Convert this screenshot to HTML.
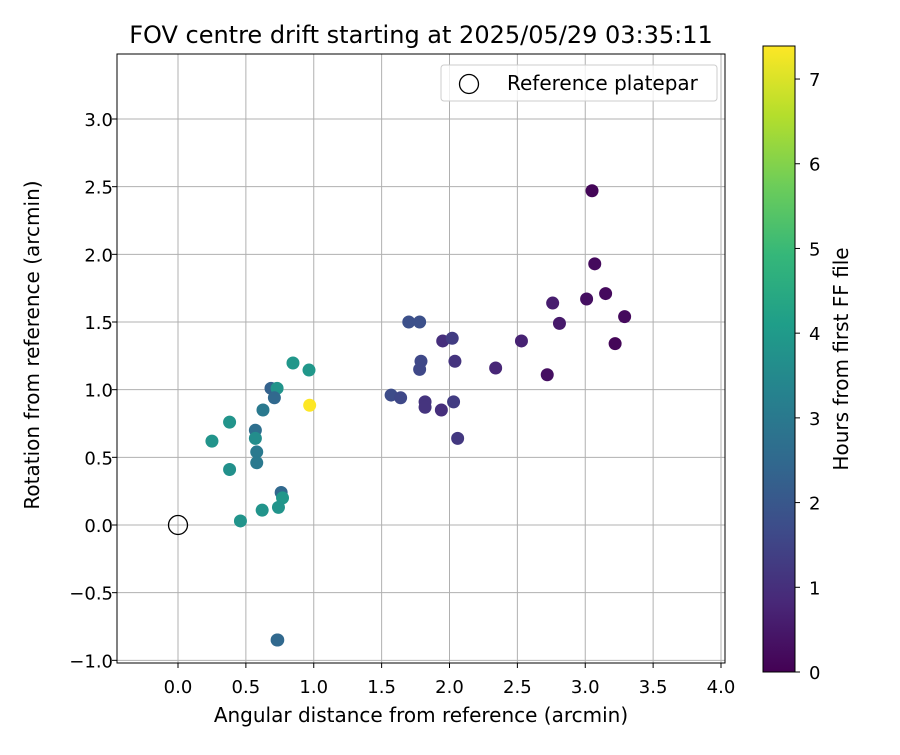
<!DOCTYPE html>
<html><head><meta charset="utf-8"><style>
body{margin:0;background:#fff;font-family:"Liberation Sans","DejaVu Sans",sans-serif}
</style></head><body>
<svg width="900" height="750" xmlns="http://www.w3.org/2000/svg" font-family="DejaVu Sans, Liberation Sans, sans-serif">
<g id="root"></g>
</svg>
<script>
const xs=[0.847,0.965,0.685,0.73,0.71,0.97,0.626,0.38,0.57,0.25,0.57,0.58,0.58,0.38,0.76,0.77,0.74,0.62,0.46,0.73,0.735,
1.70,1.78,1.95,2.02,1.79,1.78,2.04,2.34,1.57,1.64,1.82,1.82,1.94,2.03,2.06,
3.05,3.07,3.15,3.01,2.76,2.81,3.29,2.53,3.22,2.72];
const ys=[1.197,1.145,1.01,1.01,0.94,0.885,0.85,0.76,0.70,0.62,0.64,0.54,0.46,0.41,0.24,0.2,0.13,0.11,0.03,-0.85,-0.85,
1.50,1.50,1.36,1.38,1.21,1.15,1.21,1.16,0.96,0.94,0.91,0.87,0.85,0.91,0.64,
2.47,1.93,1.71,1.67,1.64,1.49,1.54,1.36,1.34,1.11];
const hours=[3.9,3.9,2.3,3.8,2.5,7.4,3.0,3.8,2.7,3.8,3.6,3.0,3.0,3.7,2.5,3.9,3.8,3.8,3.8,2.5,2.5,
1.8,1.8,1.0,1.3,1.6,1.6,1.1,0.8,1.7,1.6,1.1,1.1,1.0,1.3,1.2,
0.1,0.2,0.2,0.3,0.6,0.5,0.2,0.7,0.1,0.3];
const xTicks=[0,0.5,1,1.5,2,2.5,3,3.5,4];
const yTicks=[-1,-0.5,0,0.5,1,1.5,2,2.5,3];
const cTicks=[0,1,2,3,4,5,6,7];
const L=117,R=725,T=54,B=663;
const X=v=>178+v*135.75, Y=v=>525-v*135.33;
const cb={x:763,w:32,t:46,b:672,max:7.39};
const CY=h=>cb.b-(h/cb.max)*(cb.b-cb.t);
const vir=[[68,1,84],[72,40,120],[62,74,137],[49,104,142],[38,130,142],[31,158,137],[53,183,121],[109,205,89],[180,222,44],[253,231,37]];
function col(h){let t=Math.max(0,Math.min(1,h/cb.max))*(vir.length-1);let i=Math.min(Math.floor(t),vir.length-2),f=t-i;
const c=vir[i].map((a,k)=>Math.round(a+(vir[i+1][k]-a)*f));return `rgb(${c})`;}
const NS="http://www.w3.org/2000/svg",root=document.getElementById('root');
function mk(tag,at,txt,parent){const e=document.createElementNS(NS,tag);for(const k in at)e.setAttribute(k,at[k]);if(txt!=null)e.textContent=txt;(parent||root).appendChild(e);return e;}
const fmt=v=>(v<0?'\u2212':'')+Math.abs(v).toFixed(1);
xTicks.forEach(v=>{const g=mk('line',{x1:X(v),x2:X(v),y1:T,y2:B,stroke:'#b0b0b0','stroke-width':1});

mk('line',{x1:X(v),x2:X(v),y1:B,y2:B+5,stroke:'#000'});
const t=mk('text',{x:X(v),y:B+30,'text-anchor':'middle','font-size':18},fmt(v));
});
yTicks.forEach(v=>{const g=mk('line',{x1:L,x2:R,y1:Y(v),y2:Y(v),stroke:'#b0b0b0','stroke-width':1});

mk('line',{x1:L-5,x2:L,y1:Y(v),y2:Y(v),stroke:'#000'});
const t=mk('text',{x:L-4,y:Y(v)+7,'text-anchor':'end','font-size':18},fmt(v));
});
xs.forEach((x,i)=>{const c=mk('circle',{cx:X(x),cy:Y(ys[i]),r:6.5,fill:col(hours[i])});
});
const ref=mk('circle',{cx:X(0),cy:Y(0),r:9.5,fill:'none',stroke:'#000','stroke-width':1.3});

const fr=mk('rect',{x:L,y:T,width:R-L,height:B-T,fill:'none',stroke:'#000','stroke-width':1});

const lg=mk('g',{});
mk('rect',{x:441,y:65,width:276,height:36,rx:3,fill:'#fff','fill-opacity':0.8,stroke:'#ccc'},null,lg);
mk('circle',{cx:469,cy:84,r:9.5,fill:'none',stroke:'#000','stroke-width':1.3},null,lg);
mk('text',{x:507,y:90,'font-size':20},'Reference platepar',lg);
const tt=mk('text',{x:421,y:43,'text-anchor':'middle','font-size':24},'FOV centre drift starting at 2025/05/29 03:35:11');

const xt=mk('text',{x:421,y:722,'text-anchor':'middle','font-size':20},'Angular distance from reference (arcmin)');

const yt=mk('text',{x:0,y:0,'text-anchor':'middle','font-size':20,transform:'translate(39,345) rotate(-90)'},'Rotation from reference (arcmin)');

const defs=mk('defs',{});const gr=mk('linearGradient',{id:'vg',x1:0,y1:1,x2:0,y2:0},null,defs);
vir.forEach((c,i)=>mk('stop',{offset:i/(vir.length-1),'stop-color':`rgb(${c})`},null,gr));
const cbr=mk('rect',{x:cb.x,y:cb.t,width:cb.w,height:cb.b-cb.t,fill:'url(#vg)',stroke:'#000'});

cTicks.forEach(v=>{mk('line',{x1:cb.x+cb.w,x2:cb.x+cb.w+5,y1:CY(v),y2:CY(v),stroke:'#000'});
const t=mk('text',{x:cb.x+cb.w+14,y:CY(v)+7,'font-size':18},String(v));
});
const ct=mk('text',{x:0,y:0,'text-anchor':'middle','font-size':20,transform:'translate(848,359) rotate(-90)'},'Hours from first FF file');

</script>
</body></html>
